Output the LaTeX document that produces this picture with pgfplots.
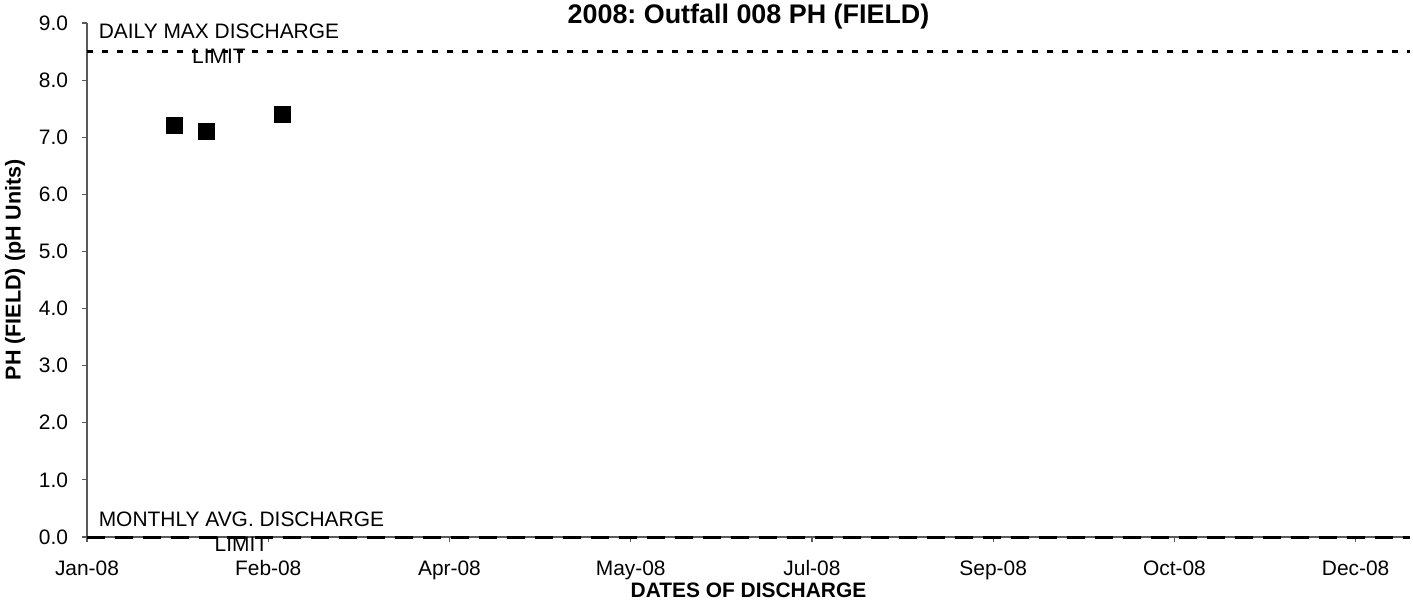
\documentclass[border=0pt]{standalone}
\usepackage{fontspec}
\setmainfont{Liberation Sans}
\usepackage{pgfplots}
\pgfplotsset{compat=1.18}
\begin{document}
\begin{tikzpicture}
\useasboundingbox (0,0) rectangle (706.5bp,300bp);
\begin{axis}[
 at={(43.5bp,31.5bp)}, anchor=south west,
 scale only axis, width=661.5bp, height=257bp,
 xmin=0, xmax=365, ymin=0, ymax=9,
 axis lines=left,
 axis line style={-, draw=gray!70!black, line width=0.6bp},
 xtick={0,50,...,350},
 xticklabels={Jan-08,Feb-08,Apr-08,May-08,Jul-08,Sep-08,Oct-08,Dec-08},
 ytick={0,1,...,9},
 yticklabel style={xshift=-3.5bp, /pgf/number format/.cd, fixed, fixed zerofill, precision=1, assume math mode=true},
 xticklabel style={yshift=-5bp, text height=8bp, text depth=2bp},
 tick align=outside, major tick length=2.5bp,
 tick style={draw=gray!70!black, line width=0.6bp},
 ticklabel style={font=\fontsize{10.5}{12}\selectfont},
 clip=false,
]
\addplot[only marks, mark=square*, mark size=4bp, black] coordinates {(24,7.2)(33,7.1)(54,7.4)};
\addplot[black, line width=1.5bp, dash pattern=on 3bp off 4.5bp] coordinates {(0,8.5)(365,8.5)};
\addplot[black, line width=1.5bp, dash pattern=on 9bp off 5bp] coordinates {(0,0)(365,0)};
\node[align=center, font=\fontsize{10.5}{12.5}\selectfont] at (axis cs:36.4,8.63) {DAILY MAX DISCHARGE\\LIMIT};
\node[align=center, font=\fontsize{10.5}{12.5}\selectfont] at (axis cs:42.6,0.09) {MONTHLY AVG. DISCHARGE\\LIMIT};
\node[font=\bfseries\fontsize{13.5}{15}\selectfont, yshift=3bp] at (rel axis cs:0.5,1) {2008:\ Outfall 008 PH (FIELD)};
\node[font=\bfseries\fontsize{10.5}{12}\selectfont, yshift=-26.5bp] at (rel axis cs:0.5,0) {DATES OF DISCHARGE};
\node[font=\bfseries\fontsize{10.8}{12}\selectfont, rotate=90, yshift=36bp] at (rel axis cs:0,0.52) {PH (FIELD) (pH Units)};
\end{axis}
\end{tikzpicture}
\end{document}
